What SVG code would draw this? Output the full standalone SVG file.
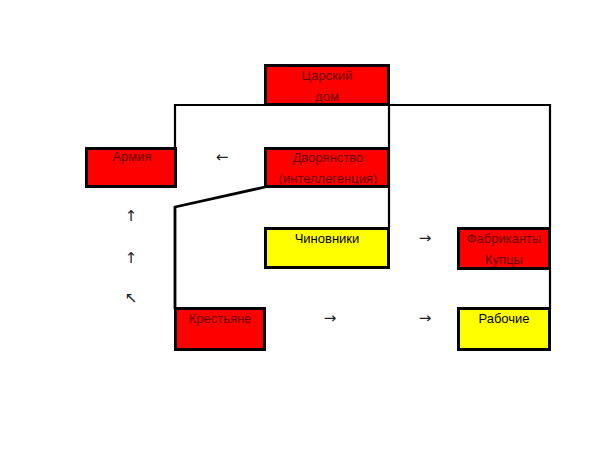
<svg xmlns="http://www.w3.org/2000/svg" width="600" height="450" viewBox="0 0 600 450">
<style>
.box{stroke:#000;stroke-width:3}
.red{fill:#ff0000}
.yel{fill:#ffff00}
.t{font-family:"Liberation Sans",Arial,sans-serif;font-size:13px;text-anchor:middle}
.tr{fill:#6a0000}
.ty{fill:#000}
.ar{font-family:"DejaVu Sans",sans-serif;font-size:15px;text-anchor:middle;fill:#222}
.c{fill:none;stroke:#000;stroke-width:2.2}
</style>
<rect width="600" height="450" fill="#fff"/>
<g id="connectors">
<polyline class="c" points="175,148 175,105 550,105 550,228"/>
<line class="c" x1="389" y1="105" x2="389" y2="228"/>
<line class="c" x1="550" y1="268" x2="550" y2="309"/>
<polyline class="c" points="265,187 175,207 175,309" style="stroke-width:2.8"/>
</g>
<g id="arrows">
<text class="ar" x="222" y="162">←</text>
<text class="ar" x="131" y="221">↑</text>
<text class="ar" x="131" y="263">↑</text>
<text class="ar" x="131" y="303">↖</text>
<text class="ar" x="425" y="243">→</text>
<text class="ar" x="330" y="323">→</text>
<text class="ar" x="425" y="323">→</text>
</g>
<g id="tsar">
<rect class="box red" x="265.5" y="65.5" width="123" height="39"/>
<text class="t tr" x="327" y="80">Царский</text>
<text class="t tr" x="327" y="101">дом</text>
</g>
<g id="army">
<rect class="box red" x="86.5" y="148.5" width="89" height="38"/>
<text class="t tr" x="132" y="161">Армия</text>
</g>
<g id="nobility">
<rect class="box red" x="265.5" y="148.5" width="123" height="38"/>
<text class="t tr" x="328" y="162">Дворянство</text>
<text class="t tr" x="328" y="183">(интеллегенция)</text>
</g>
<g id="officials">
<rect class="box yel" x="265.5" y="228.5" width="123" height="39"/>
<text class="t ty" x="327" y="243">Чиновники</text>
</g>
<g id="merchants">
<rect class="box red" x="458.5" y="228.5" width="91" height="40"/>
<text class="t tr" x="504" y="243">Фабриканты</text>
<text class="t tr" x="504" y="264">Купцы</text>
</g>
<g id="peasants">
<rect class="box red" x="175.5" y="308.5" width="89" height="41"/>
<text class="t tr" x="220" y="323">Крестьяне</text>
</g>
<g id="workers">
<rect class="box yel" x="458.5" y="308.5" width="91" height="41"/>
<text class="t ty" x="504" y="323">Рабочие</text>
</g>
</svg>
